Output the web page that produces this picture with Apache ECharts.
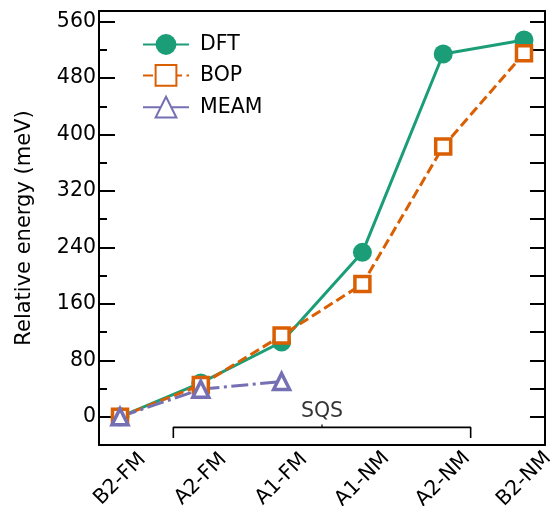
<!DOCTYPE html>
<html>
<head>
<meta charset="utf-8">
<script src="https://cdn.jsdelivr.net/npm/echarts@6/dist/echarts.min.js"></script>
<style>
html, body { margin: 0; padding: 0; background: #fff; }
#chart { width: 550px; height: 506px; }
</style>
</head>
<body>
<div id="chart"></div>
<script>
// phases along x, energies in meV
var phases = ['B2-FM', 'A2-FM', 'A1-FM', 'A1-NM', 'A2-NM', 'B2-NM'];
var dft = [0, 48, 106, 233, 514, 534];
var bop = [0, 45, 115, 188, 383, 515];
var meam = [0, 39, 50];

// tick values
var xTicks = [0, 1, 2, 3, 4, 5];
var yMajor = [0, 80, 160, 240, 320, 400, 480, 560];
var yMinor = [40, 120, 200, 280, 360, 440, 520];
var yRight = [0, 40, 80, 120, 160, 200, 240, 280, 320, 360, 400, 440, 480, 520, 560];

// SQS bracket (data coords)
var sqsBracket = [[0.66, -30], [0.66, -15], [4.34, -15], [4.34, -30]];
var sqsMid = [[2.5, -15], [2.5, -11]];
var sqsLabel = [[2.5, 7]];

var FONT = 'DejaVu Sans';
var cDFT = '#1b9e77', cBOP = '#d95f02', cMEAM = '#7570b3';

function toPairs(vals) {
    return vals.map(function (v, i) { return [i, v]; });
}

var chart = echarts.init(document.getElementById('chart'));

var frameLine = { show: true, onZero: false, lineStyle: { color: '#000', width: 2 } };

var option = {
    animation: false,
    backgroundColor: '#fff',
    textStyle: { fontFamily: FONT },
    grid: { left: 99, right: 5, top: 11, bottom: 61, containLabel: false, outerBoundsMode: 'none' },
    legend: {
        data: ['DFT', 'BOP', 'MEAM'],
        orient: 'vertical',
        left: 137,
        top: 29,
        itemWidth: 46,
        itemHeight: 26,
        itemGap: 9,
        textStyle: { fontSize: 20.5, color: '#000', fontFamily: FONT, padding: [0, 0, 0, 6] }
    },
    xAxis: [{
        type: 'value', position: 'bottom', min: -0.26, max: 5.26,
        axisLine: frameLine,
        axisTick: { show: false },
        splitLine: { show: false },
        axisLabel: {
            customValues: xTicks,
            formatter: function (v) { return phases[Math.round(v)]; },
            rotate: 45, align: 'center', verticalAlign: 'middle', margin: 34,
            fontSize: 20.5, color: '#000', fontFamily: FONT
        }
    }, {
        type: 'value', position: 'top', min: -0.26, max: 5.26,
        axisLine: frameLine,
        axisTick: { show: false }, axisLabel: { show: false }, splitLine: { show: false }
    }],
    yAxis: [{
        type: 'value', position: 'left', min: -40, max: 575,
        axisLine: frameLine,
        axisTick: { show: true, inside: true, length: 16, customValues: yMajor, lineStyle: { color: '#000', width: 2 } },
        axisLabel: { customValues: yMajor, fontSize: 20.5, color: '#000', margin: 3, fontFamily: FONT },
        splitLine: { show: false },
        name: 'Relative energy (meV)',
        nameLocation: 'middle',
        nameGap: 64,
        nameTextStyle: { fontSize: 21, color: '#000', fontFamily: FONT }
    }, {
        type: 'value', position: 'left', min: -40, max: 575,
        axisLine: { show: false, onZero: false },
        axisTick: { show: true, inside: true, length: 8, customValues: yMinor, lineStyle: { color: '#000', width: 2 } },
        axisLabel: { show: false }, splitLine: { show: false }
    }, {
        type: 'value', position: 'right', min: -40, max: 575,
        axisLine: frameLine,
        axisTick: { show: true, inside: true, length: 15, customValues: yRight, lineStyle: { color: '#000', width: 2 } },
        axisLabel: { show: false }, splitLine: { show: false }
    }],
    series: [{
        name: 'DFT', type: 'line', data: toPairs(dft),
        symbol: 'circle', symbolSize: 19,
        itemStyle: { color: cDFT },
        lineStyle: { color: cDFT, width: 3 }
    }, {
        name: 'BOP', type: 'line', data: toPairs(bop),
        symbol: 'rect', symbolSize: 15,
        itemStyle: { color: '#fff', borderColor: cBOP, borderWidth: 3.5 },
        lineStyle: { color: cBOP, width: 3, type: [10, 4.5] }
    }, {
        name: 'MEAM', type: 'line', data: toPairs(meam),
        symbol: 'triangle', symbolSize: 16,
        itemStyle: { color: '#fff', borderColor: cMEAM, borderWidth: 3.5 },
        lineStyle: { color: cMEAM, width: 3, type: [17, 4.5, 3, 4.5] }
    }, {
        name: 'sqs', type: 'line', data: sqsBracket, symbol: 'none', silent: true,
        lineStyle: { color: '#000', width: 1.6 }
    }, {
        name: 'sqsMid', type: 'line', data: sqsMid, symbol: 'none', silent: true,
        lineStyle: { color: '#000', width: 1.2 }
    }, {
        name: 'sqsText', type: 'scatter', data: sqsLabel, symbolSize: 0, silent: true,
        label: { show: true, position: 'inside', formatter: 'SQS', fontSize: 20.5, color: '#000', fontFamily: FONT }
    }]
};

chart.setOption(option);
</script>
</body>
</html>
